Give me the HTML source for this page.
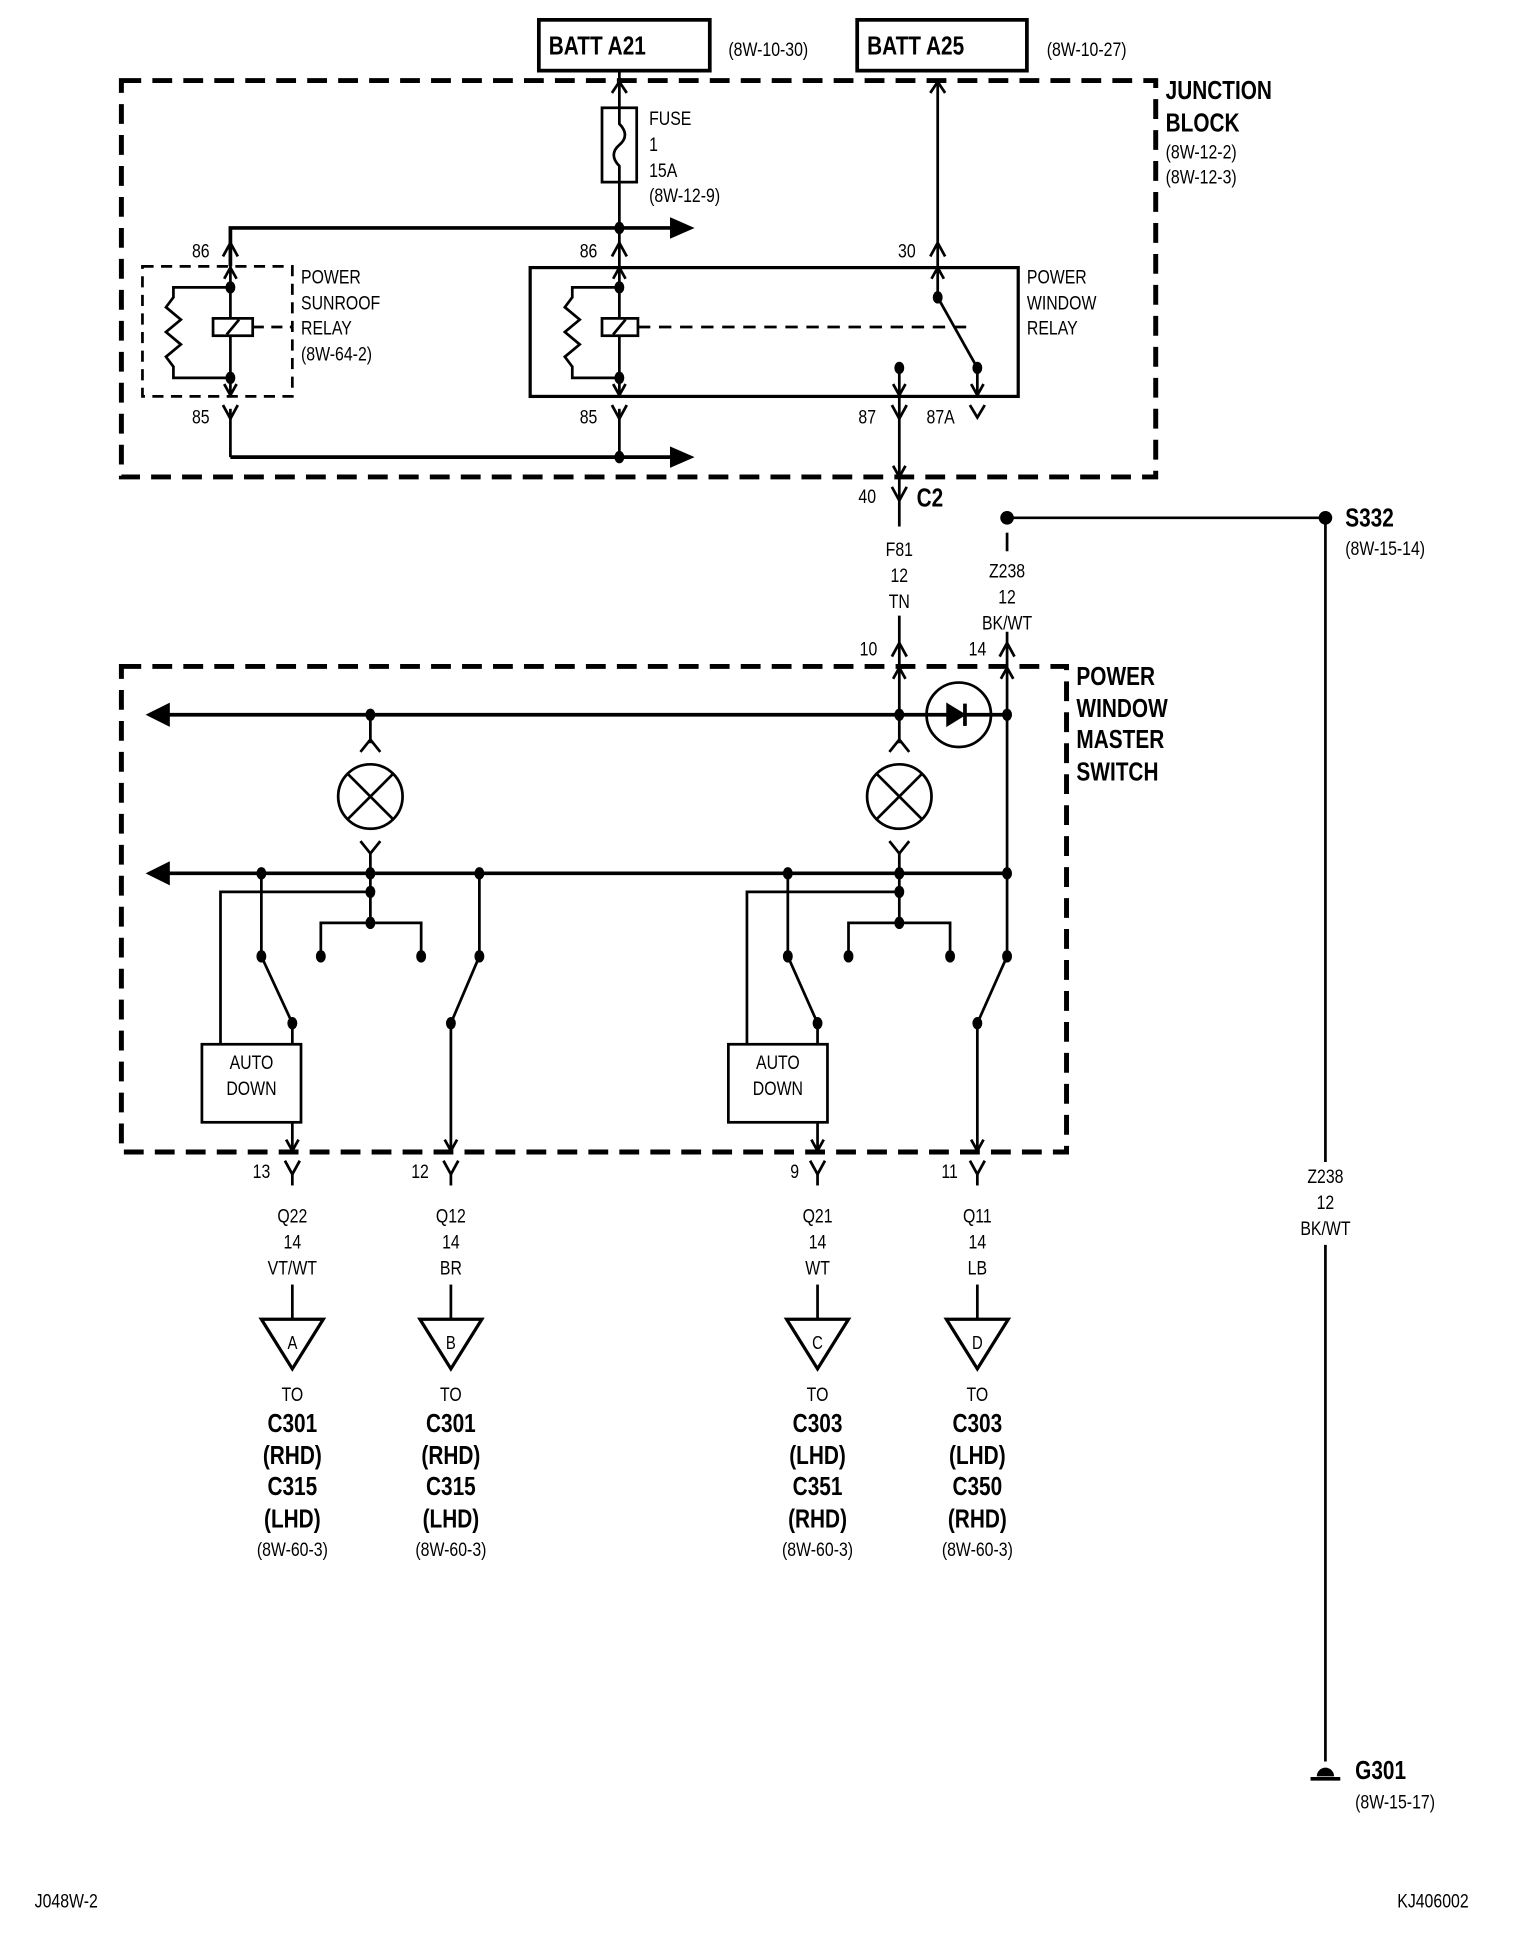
<!DOCTYPE html>
<html><head><meta charset="utf-8"><style>
html,body{margin:0;padding:0;background:#fff}
svg{display:block}
text{font-family:"Liberation Sans Narrow","Liberation Sans",sans-serif;fill:#000;transform-box:fill-box;transform-origin:0 50%;transform:scaleX(.8)}
text.c{text-anchor:middle;transform-origin:50% 50%}
.s{font-size:16px}
.b{font-size:21px;font-weight:bold}
</style></head><body>
<svg width="1536" height="1954" viewBox="0 0 1240 1577.4" xmlns="http://www.w3.org/2000/svg">
<g fill="none" stroke="#000" stroke-width="2.2">
<rect x="435" y="16" width="138" height="41" stroke-width="3"/>
<rect x="692" y="16" width="137" height="41" stroke-width="3"/>
<rect x="98" y="65" width="835" height="320" stroke-width="4" stroke-dasharray="16,9"/>
<line x1="500" y1="57" x2="500" y2="320"/>
<polyline points="494,75 500,66 506,75"/>
<rect x="486" y="87" width="28" height="60" fill="#fff"/>
<path d="M500,87 L500,100 C506,106 506,112 500,117 C494,122 494,128 500,134 L500,147"/>
<polyline points="186,215 186,184 545,184" stroke-width="3"/>
<polygon points="542,177 558,184 542,191" fill="#000"/>
<polyline points="180,207 186,196 192,207"/>
<polyline points="494,207 500,196 506,207"/>
<rect x="115" y="215" width="121" height="105" stroke-dasharray="9,6"/>
<line x1="186" y1="215" x2="186" y2="320"/>
<polyline points="181,225 186,216 191,225"/>
<polyline points="181,310 186,319 191,310"/>
<polyline points="186,232 140,232 140,240 134,248 146,258 134,268 146,278 134,288 140,296 140,305 186,305"/>
<rect x="172" y="257" width="32" height="14" fill="#fff"/>
<line x1="183" y1="270" x2="193" y2="258"/>
<line x1="204" y1="264" x2="236" y2="264" stroke-dasharray="9,6"/>
<polyline points="180,327 186,338 192,327"/>
<line x1="186" y1="330" x2="186" y2="369"/>
<polyline points="186,369 545,369" stroke-width="3"/>
<polygon points="542,362 558,369 542,376" fill="#000"/>
<rect x="428" y="216" width="394" height="104" stroke-width="2.6"/>
<polyline points="495,225 500,216 505,225"/>
<polyline points="495,310 500,319 505,310"/>
<polyline points="500,232 462,232 462,240 456,248 468,258 456,268 468,278 456,288 462,296 462,305 500,305"/>
<rect x="486" y="257" width="29" height="14" fill="#fff"/>
<line x1="495" y1="270" x2="505" y2="258"/>
<line x1="515" y1="264" x2="780" y2="264" stroke-dasharray="10,7"/>
<polyline points="494,327 500,338 506,327"/>
<line x1="500" y1="330" x2="500" y2="369"/>
<line x1="757" y1="65" x2="757" y2="240"/>
<polyline points="751,75 757,66 763,75"/>
<polyline points="751,207 757,196 763,207"/>
<polyline points="752,225 757,216 762,225"/>
<line x1="757" y1="240" x2="789" y2="297"/>
<line x1="726" y1="297" x2="726" y2="425"/>
<polyline points="721,310 726,319 731,310"/>
<polyline points="720,327 726,338 732,327"/>
<line x1="789" y1="297" x2="789" y2="320"/>
<polyline points="784,310 789,319 794,310"/>
<polyline points="783,327 789,337 795,327"/>
<polyline points="721,376 726,385 731,376"/>
<polyline points="720,393 726,404 732,393"/>
<line x1="726" y1="497" x2="726" y2="577"/>
<polyline points="720,530 726,519 732,530"/>
<polyline points="721,548 726,539 731,548"/>
<line x1="813" y1="418" x2="1070" y2="418"/>
<line x1="813" y1="430" x2="813" y2="445"/>
<line x1="813" y1="510" x2="813" y2="772"/>
<polyline points="807,530 813,519 819,530"/>
<polyline points="808,548 813,539 818,548"/>
<line x1="1070" y1="418" x2="1070" y2="938"/>
<line x1="1070" y1="1005" x2="1070" y2="1422"/>
<line x1="1058" y1="1436" x2="1082" y2="1436" stroke-width="3"/>
<rect x="98" y="538" width="763" height="392" stroke-width="4" stroke-dasharray="16,9"/>
<line x1="130" y1="577" x2="813" y2="577" stroke-width="3"/>
<polygon points="120,577 136,569 136,585" fill="#000"/>
<line x1="130" y1="705" x2="813" y2="705" stroke-width="3"/>
<polygon points="120,705 136,697 136,713" fill="#000"/>
<circle cx="774" cy="577" r="26"/>
<polygon points="765,569 778,577 765,585" fill="#000"/>
<line x1="779" y1="568" x2="779" y2="586" stroke-width="3"/>
<line x1="299" y1="577" x2="299" y2="600"/>
<polyline points="291,607 299,597 307,607"/>
<circle cx="299" cy="643" r="26"/>
<line x1="281" y1="625" x2="317" y2="661"/><line x1="317" y1="625" x2="281" y2="661"/>
<polyline points="291,679 299,689 307,679"/>
<line x1="299" y1="688" x2="299" y2="745"/>
<line x1="726" y1="577" x2="726" y2="600"/>
<polyline points="718,607 726,597 734,607"/>
<circle cx="726" cy="643" r="26"/>
<line x1="708" y1="625" x2="744" y2="661"/><line x1="744" y1="625" x2="708" y2="661"/>
<polyline points="718,679 726,689 734,679"/>
<line x1="726" y1="688" x2="726" y2="745"/>
<polyline points="178,843 178,720 299,720"/>
<line x1="211" y1="705" x2="211" y2="772"/>
<polyline points="259,772 259,745 340,745 340,772"/>
<line x1="211" y1="772" x2="236" y2="826"/>
<line x1="236" y1="826" x2="236" y2="843"/>
<rect x="163" y="843" width="80" height="63"/>
<line x1="236" y1="906" x2="236" y2="930"/>
<polyline points="231,920 236,929 241,920"/>
<line x1="387" y1="705" x2="387" y2="772"/>
<line x1="387" y1="772" x2="364" y2="826"/>
<line x1="364" y1="826" x2="364" y2="930"/>
<polyline points="359,920 364,929 369,920"/>
<polyline points="603,843 603,720 726,720"/>
<line x1="636" y1="705" x2="636" y2="772"/>
<polyline points="685,772 685,745 767,745 767,772"/>
<line x1="636" y1="772" x2="660" y2="826"/>
<line x1="660" y1="826" x2="660" y2="843"/>
<rect x="588" y="843" width="80" height="63"/>
<line x1="660" y1="906" x2="660" y2="930"/>
<polyline points="655,920 660,929 665,920"/>
<line x1="813" y1="772" x2="789" y2="826"/>
<line x1="789" y1="826" x2="789" y2="930"/>
<polyline points="784,920 789,929 794,920"/>
<polyline points="230,937 236,948 242,937"/><line x1="236" y1="947" x2="236" y2="957"/><line x1="236" y1="1037" x2="236" y2="1065"/><polygon points="211,1065 261,1065 236,1105" stroke-width="2.6"/>
<polyline points="358,937 364,948 370,937"/><line x1="364" y1="947" x2="364" y2="957"/><line x1="364" y1="1037" x2="364" y2="1065"/><polygon points="339,1065 389,1065 364,1105" stroke-width="2.6"/>
<polyline points="654,937 660,948 666,937"/><line x1="660" y1="947" x2="660" y2="957"/><line x1="660" y1="1037" x2="660" y2="1065"/><polygon points="635,1065 685,1065 660,1105" stroke-width="2.6"/>
<polyline points="783,937 789,948 795,937"/><line x1="789" y1="947" x2="789" y2="957"/><line x1="789" y1="1037" x2="789" y2="1065"/><polygon points="764,1065 814,1065 789,1105" stroke-width="2.6"/>
</g>
<g fill="#000">
<ellipse cx="500" cy="184" rx="4" ry="5"/><ellipse cx="500" cy="369" rx="4" ry="5"/>
<ellipse cx="186" cy="232" rx="4" ry="5"/><ellipse cx="186" cy="305" rx="4" ry="5"/>
<ellipse cx="500" cy="232" rx="4" ry="5"/><ellipse cx="500" cy="305" rx="4" ry="5"/>
<ellipse cx="757" cy="240" rx="4" ry="5"/><ellipse cx="789" cy="297" rx="4" ry="5"/><ellipse cx="726" cy="297" rx="4" ry="5"/>
<circle cx="813" cy="418" r="5.5"/><circle cx="1070" cy="418" r="5.5"/>
<path d="M1063,1434 a7,7 0 0 1 14,0 z"/>
<ellipse cx="299" cy="577" rx="4" ry="5"/><ellipse cx="726" cy="577" rx="4" ry="5"/><ellipse cx="813" cy="577" rx="4" ry="5"/>
<ellipse cx="211" cy="705" rx="4" ry="5"/><ellipse cx="299" cy="705" rx="4" ry="5"/><ellipse cx="387" cy="705" rx="4" ry="5"/>
<ellipse cx="636" cy="705" rx="4" ry="5"/><ellipse cx="726" cy="705" rx="4" ry="5"/><ellipse cx="813" cy="705" rx="4" ry="5"/>
<ellipse cx="299" cy="720" rx="4" ry="5"/><ellipse cx="726" cy="720" rx="4" ry="5"/>
<ellipse cx="299" cy="745" rx="4" ry="5"/><ellipse cx="726" cy="745" rx="4" ry="5"/>
<ellipse cx="211" cy="772" rx="4" ry="5"/><ellipse cx="259" cy="772" rx="4" ry="5"/><ellipse cx="340" cy="772" rx="4" ry="5"/><ellipse cx="387" cy="772" rx="4" ry="5"/>
<ellipse cx="636" cy="772" rx="4" ry="5"/><ellipse cx="685" cy="772" rx="4" ry="5"/><ellipse cx="767" cy="772" rx="4" ry="5"/><ellipse cx="813" cy="772" rx="4" ry="5"/>
<ellipse cx="236" cy="826" rx="4" ry="5"/><ellipse cx="364" cy="826" rx="4" ry="5"/><ellipse cx="660" cy="826" rx="4" ry="5"/><ellipse cx="789" cy="826" rx="4" ry="5"/>
</g>
<text x="443" y="44" class="b">BATT A21</text>
<text x="588" y="45" class="s">(8W-10-30)</text>
<text x="700" y="44" class="b">BATT A25</text>
<text x="845" y="45" class="s">(8W-10-27)</text>
<text x="941" y="80" class="b">JUNCTION</text>
<text x="941" y="106" class="b">BLOCK</text>
<text x="941" y="128" class="s">(8W-12-2)</text>
<text x="941" y="148" class="s">(8W-12-3)</text>
<text x="524" y="101" class="s">FUSE</text>
<text x="524" y="122" class="s">1</text>
<text x="524" y="143" class="s">15A</text>
<text x="524" y="163" class="s">(8W-12-9)</text>
<text x="155" y="208" class="s">86</text>
<text x="468" y="208" class="s">86</text>
<text x="725" y="208" class="s">30</text>
<text x="243" y="229" class="s">POWER</text>
<text x="243" y="250" class="s">SUNROOF</text>
<text x="243" y="270" class="s">RELAY</text>
<text x="243" y="291" class="s">(8W-64-2)</text>
<text x="829" y="229" class="s">POWER</text>
<text x="829" y="250" class="s">WINDOW</text>
<text x="829" y="270" class="s">RELAY</text>
<text x="155" y="342" class="s">85</text>
<text x="468" y="342" class="s">85</text>
<text x="693" y="342" class="s">87</text>
<text x="748" y="342" class="s">87A</text>
<text x="693" y="406" class="s">40</text>
<text x="740" y="409" class="b">C2</text>
<text x="726" y="449" class="s c">F81</text>
<text x="726" y="470" class="s c">12</text>
<text x="726" y="491" class="s c">TN</text>
<text x="813" y="466" class="s c">Z238</text>
<text x="813" y="487" class="s c">12</text>
<text x="813" y="508" class="s c">BK/WT</text>
<text x="1086" y="425" class="b">S332</text>
<text x="1086" y="448" class="s">(8W-15-14)</text>
<text x="694" y="529" class="s">10</text>
<text x="782" y="529" class="s">14</text>
<text x="869" y="553" class="b">POWER</text>
<text x="869" y="579" class="b">WINDOW</text>
<text x="869" y="604" class="b">MASTER</text>
<text x="869" y="630" class="b">SWITCH</text>
<text x="203" y="863" class="s c">AUTO</text>
<text x="203" y="884" class="s c">DOWN</text>
<text x="628" y="863" class="s c">AUTO</text>
<text x="628" y="884" class="s c">DOWN</text>
<text x="204" y="951" class="s">13</text>
<text x="332" y="951" class="s">12</text>
<text x="638" y="951" class="s">9</text>
<text x="760" y="951" class="s">11</text>
<text x="1070" y="955" class="s c">Z238</text>
<text x="1070" y="976" class="s c">12</text>
<text x="1070" y="997" class="s c">BK/WT</text>
<text x="236" y="987" class="s c">Q22</text><text x="236" y="1008" class="s c">14</text><text x="236" y="1029" class="s c">VT/WT</text>
<text x="364" y="987" class="s c">Q12</text><text x="364" y="1008" class="s c">14</text><text x="364" y="1029" class="s c">BR</text>
<text x="660" y="987" class="s c">Q21</text><text x="660" y="1008" class="s c">14</text><text x="660" y="1029" class="s c">WT</text>
<text x="789" y="987" class="s c">Q11</text><text x="789" y="1008" class="s c">14</text><text x="789" y="1029" class="s c">LB</text>
<text x="236" y="1089" class="s c" style="font-size:15px">A</text>
<text x="364" y="1089" class="s c" style="font-size:15px">B</text>
<text x="660" y="1089" class="s c" style="font-size:15px">C</text>
<text x="789" y="1089" class="s c" style="font-size:15px">D</text>
<text x="236" y="1131" class="s c">TO</text><text x="364" y="1131" class="s c">TO</text><text x="660" y="1131" class="s c">TO</text><text x="789" y="1131" class="s c">TO</text>
<text x="236" y="1156" class="b c">C301</text><text x="236" y="1182" class="b c">(RHD)</text><text x="236" y="1207" class="b c">C315</text><text x="236" y="1233" class="b c">(LHD)</text><text x="236" y="1256" class="s c">(8W-60-3)</text>
<text x="364" y="1156" class="b c">C301</text><text x="364" y="1182" class="b c">(RHD)</text><text x="364" y="1207" class="b c">C315</text><text x="364" y="1233" class="b c">(LHD)</text><text x="364" y="1256" class="s c">(8W-60-3)</text>
<text x="660" y="1156" class="b c">C303</text><text x="660" y="1182" class="b c">(LHD)</text><text x="660" y="1207" class="b c">C351</text><text x="660" y="1233" class="b c">(RHD)</text><text x="660" y="1256" class="s c">(8W-60-3)</text>
<text x="789" y="1156" class="b c">C303</text><text x="789" y="1182" class="b c">(LHD)</text><text x="789" y="1207" class="b c">C350</text><text x="789" y="1233" class="b c">(RHD)</text><text x="789" y="1256" class="s c">(8W-60-3)</text>
<text x="1094" y="1436" class="b">G301</text>
<text x="1094" y="1460" class="s">(8W-15-17)</text>
<text x="28" y="1540" class="s">J048W-2</text>
<text x="1128" y="1540" class="s">KJ406002</text>
</svg>
</body></html>
